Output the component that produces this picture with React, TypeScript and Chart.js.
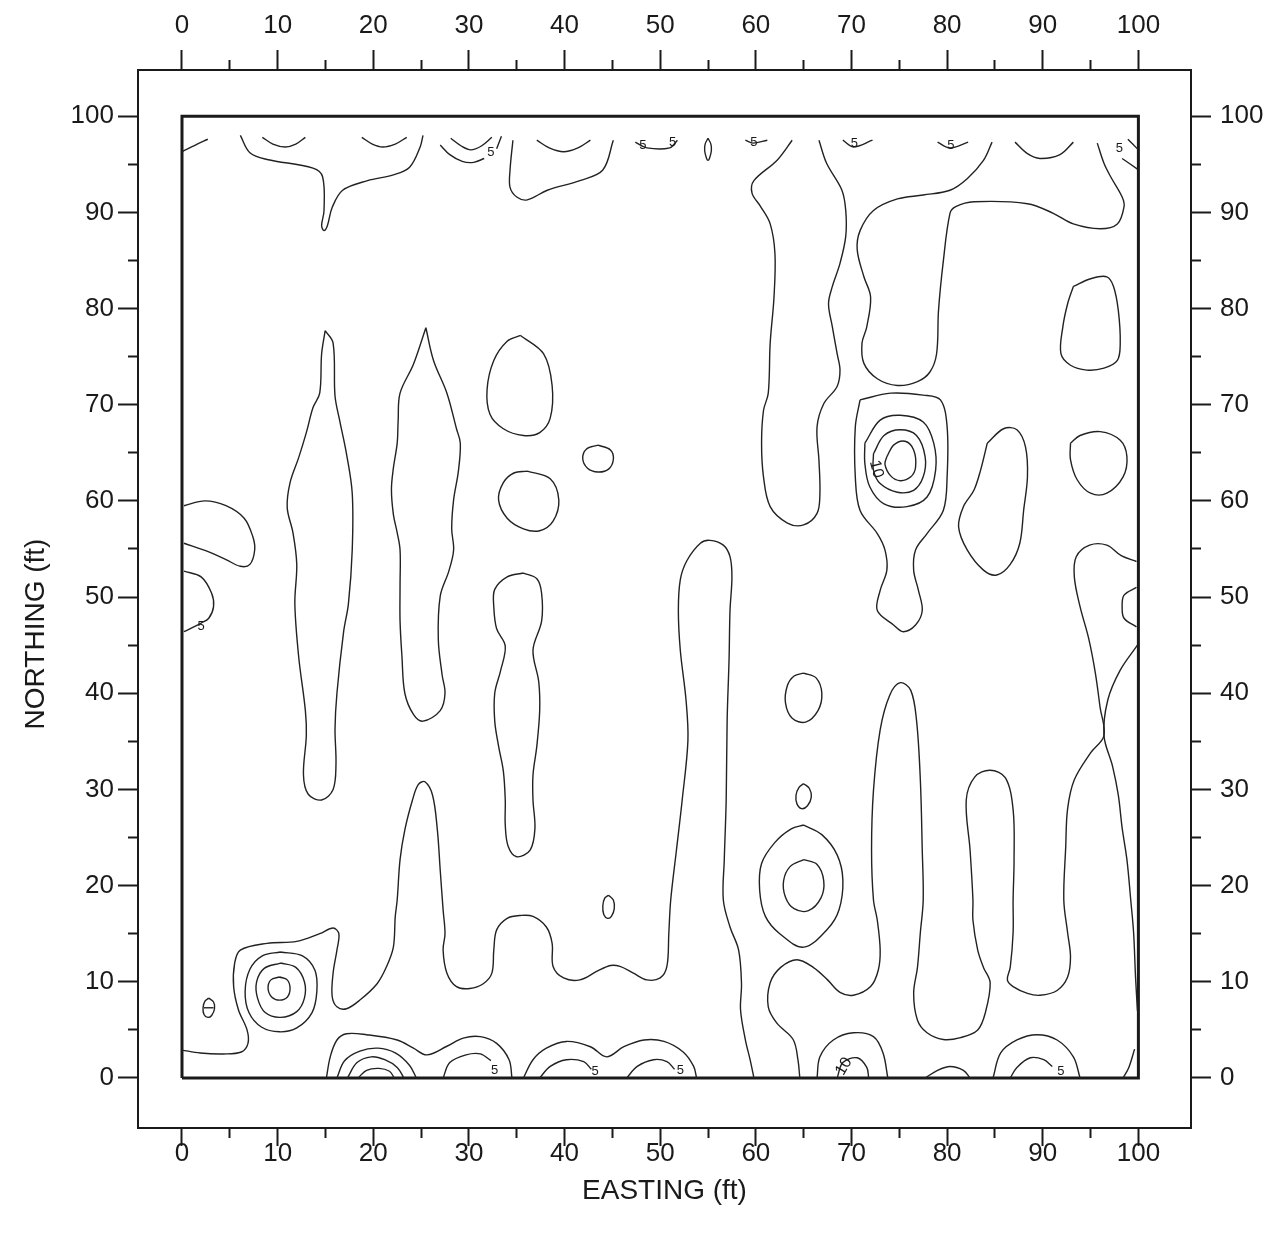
import React, { useEffect, useRef } from 'react';
import { Chart, registerables } from 'chart.js';

Chart.register(...registerables);

type Pt = [number, number];

// ---- axis ranges and tick values ----
const X_MIN = -4.6;
const X_MAX = 105.5;
const Y_MIN = -5.2;
const Y_MAX = 104.8;
const majorTickValues = [0, 10, 20, 30, 40, 50, 60, 70, 80, 90, 100];
const minorTickValues = [5, 15, 25, 35, 45, 55, 65, 75, 85, 95];
const xTitle = 'EASTING (ft)';
const yTitle = 'NORTHING (ft)';

// ---- survey frame ----
const frameX = [0, 100, 100, 0, 0];
const frameY = [0, 0, 100, 100, 0];

// ---- contour lines (easting, northing) ----
const cTopLeft: Pt[] = [[0, 96.3], [1.4, 97.0], [2.7, 97.6]];
const cTopStem: Pt[] = [[6.1, 98.0], [7.1, 96.2], [8.9, 95.5], [13.7, 94.6], [14.7, 93.7], [14.85, 90.2], [14.6, 88.6], [14.85, 88.1], [15.2, 88.6], [15.7, 90.5], [16.8, 92.3], [19.4, 93.3], [22.1, 93.9], [23.8, 94.7], [24.9, 96.8], [25.2, 98.0]];
const cTopArc10: Pt[] = [[8.4, 97.8], [9.5, 97.1], [10.8, 96.8], [11.9, 97.1], [12.9, 97.8]];
const cTopArc21: Pt[] = [[18.8, 97.8], [19.9, 97.1], [21.0, 96.8], [22.3, 97.1], [23.5, 97.8]];
const cTopArc30a: Pt[] = [[28.1, 97.7], [29.2, 96.9], [30.2, 96.5], [31.3, 96.9], [32.4, 97.8]];
const cTopArc30b: Pt[] = [[27.0, 97.0], [28.0, 96.0], [29.3, 95.3], [30.5, 95.2], [31.6, 95.6]];
const cTopArc30c: Pt[] = [[32.9, 96.6], [33.4, 97.9]];
const cTopLoop36: Pt[] = [[34.6, 97.5], [34.3, 94.4], [34.3, 92.6], [35.0, 91.6], [36.1, 91.3], [38.2, 92.3], [41.6, 93.3], [44.0, 94.4], [45.1, 97.5]];
const cTopArc40: Pt[] = [[37.1, 97.5], [38.4, 96.7], [39.9, 96.3], [41.4, 96.7], [42.7, 97.5]];
const cTopArc50: Pt[] = [[47.4, 97.3], [48.6, 96.7], [51.0, 96.7], [51.8, 97.5]];
const cTopOval55: Pt[] = [[55.0, 97.7], [55.3, 97.1], [55.35, 96.4], [55.15, 95.6], [55.0, 95.4], [54.85, 95.6], [54.65, 96.4], [54.7, 97.1], [55.0, 97.7]];
const cTopArc60: Pt[] = [[58.9, 97.5], [59.7, 97.2], [61.2, 97.5]];
const cBand64: Pt[] = [[63.8, 97.5], [62.2, 95.4], [59.8, 93.3], [59.6, 92.0], [60.5, 90.6], [61.5, 88.8], [62.0, 85.7], [61.9, 81.2], [61.5, 76.4], [61.3, 71.2], [60.8, 69.4], [60.6, 66.0], [60.8, 62.5], [61.5, 59.4], [63.3, 57.7], [65.0, 57.5], [66.4, 58.7], [66.7, 60.8], [66.6, 64.2], [66.4, 67.7], [67.1, 70.1], [68.5, 71.9], [68.8, 73.6], [68.5, 75.3], [68.0, 78.1], [67.6, 80.5], [68.0, 82.3], [68.8, 84.7], [69.4, 87.5], [69.4, 90.2], [69.0, 92.3], [67.4, 95.1], [66.6, 97.5]];
const cTopArc70: Pt[] = [[69.1, 97.5], [70.2, 96.8], [72.2, 97.5]];
const cTopArc80: Pt[] = [[79.0, 97.3], [80.3, 96.7], [82.2, 97.3]];
const cBand80: Pt[] = [[84.7, 97.3], [83.8, 95.4], [82.1, 93.5], [80.3, 92.3], [77.5, 91.8], [74.8, 91.4], [72.3, 90.2], [70.9, 88.1], [70.6, 86.1], [71.3, 83.3], [72.0, 81.2], [71.6, 78.1], [71.1, 76.4], [71.3, 74.3], [72.7, 72.7], [74.8, 72.0], [76.9, 72.4], [78.2, 73.4], [78.9, 75.3], [79.1, 79.8], [79.6, 84.9], [80.3, 89.9], [80.9, 90.6], [82.8, 91.1], [88.4, 90.9], [91.1, 89.9], [93.2, 88.8], [96.0, 88.3], [97.8, 88.8], [98.5, 90.6], [98.3, 91.6], [97.1, 93.7], [96.4, 95.1], [95.7, 97.2]];
const cTopArc90: Pt[] = [[87.1, 97.3], [88.4, 96.1], [89.7, 95.6], [91.8, 96.0], [93.2, 97.3]];
const cCornerA: Pt[] = [[98.9, 97.6], [99.9, 96.6]];
const cCornerB: Pt[] = [[98.3, 95.6], [99.9, 94.5]];

const cLeft58: Pt[] = [[0.2, 59.5], [2.4, 60.0], [4.6, 59.5], [6.5, 58.2], [7.4, 56.3], [7.6, 54.9], [7.1, 53.4], [6.1, 53.2], [4.6, 53.9], [2.8, 54.7], [0.2, 55.6]];
const cLeft50: Pt[] = [[0.2, 52.7], [2.0, 52.1], [3.1, 50.4], [3.3, 49.0], [2.8, 47.8], [2.0, 47.3], [0.2, 46.4]];
const cSpindle15: Pt[] = [[14.97, 77.7], [15.8, 76.4], [16.0, 70.9], [16.5, 68.3], [17.2, 64.9], [17.8, 60.8], [17.8, 54.9], [17.4, 49.3], [16.9, 46.4], [16.2, 40.0], [16.0, 36.3], [16.1, 32.6], [15.8, 30.0], [14.6, 28.9], [13.2, 29.5], [12.7, 31.5], [13.0, 35.6], [12.9, 38.2], [12.2, 43.8], [11.8, 49.3], [12.0, 53.4], [11.6, 56.7], [11.0, 59.3], [11.3, 61.9], [12.2, 64.5], [13.0, 67.1], [13.7, 69.7], [14.4, 71.2], [14.6, 75.3], [14.97, 77.7]];
const cSpindle25: Pt[] = [[25.5, 78.0], [26.3, 74.6], [27.7, 71.2], [28.7, 67.5], [29.1, 66.0], [28.9, 63.1], [28.4, 60.1], [28.2, 57.1], [28.4, 54.9], [27.9, 52.7], [27.0, 50.1], [26.8, 45.6], [27.2, 41.9], [27.5, 40.0], [27.0, 38.2], [25.2, 37.1], [24.2, 37.8], [23.3, 40.0], [23.0, 43.8], [22.8, 47.5], [22.8, 51.2], [22.8, 54.9], [22.5, 56.7], [22.1, 58.6], [21.9, 61.2], [22.1, 63.4], [22.5, 66.0], [22.6, 68.3], [22.8, 71.2], [24.2, 74.2], [25.5, 78.0]];
const cRing35a: Pt[] = [[35.4, 77.2], [37.8, 75.3], [38.7, 72.0], [38.5, 68.6], [37.4, 67.1], [35.7, 66.8], [33.6, 67.5], [32.2, 69.0], [31.9, 71.6], [32.6, 74.6], [34.0, 76.6], [35.4, 77.2]];
const cRing35b: Pt[] = [[36.1, 63.1], [38.5, 62.3], [39.4, 60.1], [38.8, 57.9], [37.4, 56.9], [35.7, 57.1], [34.0, 58.2], [33.1, 60.1], [33.6, 61.9], [34.7, 62.9], [36.1, 63.1]];
const cSpindle35: Pt[] = [[35.7, 52.5], [37.1, 51.9], [37.6, 50.4], [37.6, 47.5], [36.7, 44.5], [37.3, 41.2], [37.4, 38.2], [37.1, 34.5], [36.7, 31.5], [36.7, 28.9], [36.9, 25.9], [36.4, 23.7], [35.0, 23.0], [34.1, 24.1], [33.8, 26.3], [33.8, 28.9], [33.6, 31.9], [33.1, 34.5], [32.7, 37.1], [32.7, 40.0], [33.3, 42.3], [33.8, 44.9], [32.9, 46.7], [32.6, 49.0], [32.7, 50.8], [34.0, 52.1], [35.7, 52.5]];
const cRing44: Pt[] = [[43.5, 65.8], [44.8, 65.3], [45.1, 64.3], [44.6, 63.3], [43.5, 63.0], [42.4, 63.4], [41.9, 64.4], [42.3, 65.4], [43.5, 65.8]];

const cLongWest: Pt[] = [[0, 2.9], [1.9, 2.6], [4.3, 2.5], [6.2, 2.7], [6.9, 3.6], [6.8, 5.0], [5.9, 7.1], [5.4, 9.5], [5.5, 11.9], [6.1, 13.3], [8.9, 14.0], [12.0, 14.2], [14.4, 15.0], [15.8, 15.6], [16.4, 15.0], [16.2, 13.3], [15.8, 10.9], [15.7, 8.5], [16.2, 7.4], [17.2, 7.2], [18.6, 8.1], [20.4, 9.8], [21.4, 11.6], [22.1, 13.6], [22.3, 16.8], [22.5, 18.5], [22.8, 22.7], [23.3, 25.8], [24.1, 28.9], [24.7, 30.5], [25.4, 30.8], [26.2, 29.4], [26.7, 25.8], [27.0, 21.6], [27.3, 17.5], [27.5, 15.0], [27.3, 13.3], [27.7, 10.9], [28.7, 9.5], [30.1, 9.3], [31.5, 9.8], [32.4, 10.9], [32.6, 13.3], [32.9, 15.4], [34.0, 16.6], [35.4, 16.9], [36.7, 16.8], [38.1, 15.7], [38.7, 14.0], [38.8, 11.6], [39.9, 10.4], [41.6, 10.2], [43.4, 11.1], [44.8, 11.7], [45.8, 11.6], [47.2, 10.9], [48.6, 10.2], [50.0, 10.4], [50.7, 11.6], [50.9, 15.0], [51.1, 18.5], [51.7, 23.7], [52.3, 28.9], [52.9, 35.1], [52.7, 39.3], [52.1, 44.5], [51.9, 48.6], [52.1, 51.8], [52.8, 53.8], [54.2, 55.6], [55.2, 55.9], [56.6, 55.4], [57.3, 54.2], [57.5, 52.1], [57.3, 48.6], [57.2, 43.5], [57.0, 37.2], [56.9, 28.9], [56.7, 22.7], [56.6, 18.5], [57.3, 15.7], [58.2, 13.3], [58.5, 9.8], [58.4, 7.1], [58.9, 4.0], [59.4, 1.9], [59.8, 0]];
const cOval45: Pt[] = [[44.6, 19.0], [45.1, 18.5], [45.2, 17.6], [44.9, 16.8], [44.5, 16.6], [44.1, 17.0], [44.0, 17.9], [44.2, 18.7], [44.6, 19.0]];
const cOval3: Pt[] = [[2.8, 8.3], [3.3, 7.9], [3.4, 7.2], [3.1, 6.5], [2.7, 6.3], [2.3, 6.6], [2.2, 7.3], [2.4, 8.0], [2.8, 8.3]];
const cOval3Bar: Pt[] = [[2.3, 7.3], [3.3, 7.3]];
const cBull10a: Pt[] = [[10.3, 13.1], [12.6, 12.7], [13.9, 11.2], [14.1, 9.0], [13.6, 6.8], [12.0, 5.2], [10.2, 4.8], [8.3, 5.3], [7.0, 6.8], [6.6, 9.0], [7.1, 11.3], [8.4, 12.7], [10.3, 13.1]];
const cBull10b: Pt[] = [[10.3, 11.95], [11.9, 11.5], [12.8, 10.0], [12.8, 8.3], [12.0, 6.9], [10.3, 6.3], [8.7, 6.8], [7.9, 8.3], [7.8, 10.0], [8.6, 11.4], [10.3, 11.95]];
const cBull10c: Pt[] = [[10.2, 10.5], [11.0, 10.2], [11.3, 9.3], [11.0, 8.4], [10.2, 8.1], [9.4, 8.4], [9.0, 9.3], [9.3, 10.2], [10.2, 10.5]];

const cSouthBump1: Pt[] = [[15.1, 0], [15.5, 2.2], [16.2, 3.95], [17.2, 4.6], [19.3, 4.5], [22.5, 3.95], [24.2, 3.1], [25.6, 2.4], [27.7, 3.3], [29.4, 4.15], [31.2, 4.3], [32.9, 3.6], [34.2, 1.9], [34.5, 0]];
const cSouth20a: Pt[] = [[16.2, 0], [17.0, 1.8], [18.6, 2.8], [20.5, 3.1], [22.3, 2.6], [23.8, 1.3], [24.5, 0]];
const cSouth20b: Pt[] = [[17.3, 0], [18.3, 1.6], [19.8, 2.2], [21.2, 1.9], [22.5, 1.1], [23.2, 0]];
const cSouth20c: Pt[] = [[18.4, 0], [19.3, 0.8], [20.6, 1.0], [21.7, 0.7], [22.2, 0]];
const cSouth30: Pt[] = [[27.3, 0], [28.0, 1.6], [29.7, 2.4], [31.2, 2.5], [32.3, 1.8]];
const cSouthBump2: Pt[] = [[35.7, 0], [36.7, 1.9], [38.1, 3.1], [40.2, 3.8], [42.7, 3.25], [44.4, 2.2], [46.2, 3.25], [48.3, 3.95], [50.4, 3.8], [52.4, 2.7], [53.5, 1.2], [53.8, 0]];
const cSouth40: Pt[] = [[37.4, 0], [38.5, 1.2], [40.2, 1.9], [42.0, 1.7], [42.8, 0.9]];
const cSouth50: Pt[] = [[46.5, 0], [47.6, 1.2], [49.3, 1.9], [50.7, 1.7], [51.5, 0.9]];

const cRing65a: Pt[] = [[65.0, 26.3], [66.9, 25.3], [68.5, 23.2], [69.1, 20.6], [68.7, 17.5], [67.5, 15.5], [65.0, 13.6], [62.5, 15.0], [61.0, 16.8], [60.4, 19.5], [60.6, 22.3], [62.0, 24.5], [63.7, 25.9], [65.0, 26.3]];
const cRing65b: Pt[] = [[65.0, 22.7], [66.4, 22.2], [67.1, 20.5], [66.8, 18.7], [65.5, 17.4], [64.0, 17.6], [63.1, 18.8], [62.9, 20.5], [63.6, 22.0], [65.0, 22.7]];
const cRing65c: Pt[] = [[65.0, 30.6], [65.6, 30.1], [65.8, 29.2], [65.4, 28.3], [64.8, 28.0], [64.3, 28.5], [64.2, 29.4], [64.5, 30.2], [65.0, 30.6]];
const cRing65d: Pt[] = [[65.0, 42.1], [66.3, 41.6], [66.9, 40.0], [66.5, 38.2], [65.2, 37.0], [63.8, 37.4], [63.1, 39.0], [63.3, 40.8], [64.0, 41.8], [65.0, 42.1]];
const cSouth70a: Pt[] = [[66.4, 0], [66.7, 2.2], [68.1, 3.95], [70.2, 4.7], [72.3, 4.3], [73.3, 2.6], [73.8, 0]];
const cSouth70b: Pt[] = [[68.5, 0], [69.1, 1.6], [70.6, 2.1], [71.6, 1.1], [71.8, 0]];
const cSouth80: Pt[] = [[77.7, 0], [79.0, 0.8], [80.3, 1.2], [81.7, 0.8], [82.4, 0]];
const cSouth90a: Pt[] = [[84.8, 0], [85.6, 2.6], [87.3, 3.95], [89.4, 4.5], [91.5, 3.95], [93.2, 2.2], [93.9, 0]];
const cSouth90b: Pt[] = [[86.6, 0], [87.3, 1.1], [88.7, 2.1], [90.1, 1.9], [91.0, 1.2]];
const cSouthEast: Pt[] = [[98.4, 0], [99.0, 1.1], [99.6, 3.0]];

const cWinding: Pt[] = [[64.6, 0], [64.4, 1.9], [63.9, 4.0], [62.2, 5.7], [61.3, 7.4], [61.5, 9.9], [62.6, 11.5], [64.3, 12.3], [66.0, 11.5], [67.5, 10.2], [68.8, 8.9], [70.2, 8.6], [72.0, 9.5], [72.8, 11.2], [73.0, 13.3], [72.7, 16.4], [72.3, 18.5], [72.1, 23.7], [72.3, 29.9], [73.0, 36.2], [74.0, 39.8], [75.1, 41.1], [76.2, 40.3], [76.8, 37.2], [77.2, 31.0], [77.4, 23.7], [77.5, 18.5], [77.2, 15.1], [76.9, 11.5], [76.5, 8.8], [76.9, 6.0], [77.9, 4.7], [79.6, 4.0], [81.4, 4.2], [83.2, 5.0], [84.0, 6.8], [84.5, 9.9], [83.8, 11.5], [83.2, 13.3], [82.7, 16.4], [82.7, 18.5], [82.4, 23.7], [82.0, 28.9], [82.9, 31.3], [84.5, 32.0], [86.1, 31.2], [86.9, 27.9], [87.0, 22.7], [86.9, 18.5], [86.9, 15.1], [86.6, 11.5], [86.3, 10.2], [86.9, 9.5], [88.4, 8.8], [89.7, 8.6], [91.5, 9.1], [92.6, 10.5], [92.9, 12.6], [92.6, 15.1], [92.2, 18.5], [92.4, 24.0], [92.6, 28.0], [93.3, 31.0], [95.0, 33.8], [96.4, 35.6], [96.0, 38.5], [95.5, 42.1], [94.8, 45.7], [93.9, 49.0], [93.3, 52.1], [93.5, 54.2], [94.9, 55.4], [96.7, 55.4], [98.2, 54.3], [99.8, 53.7]];
const cEastEdge: Pt[] = [[99.9, 45.0], [98.1, 42.4], [96.8, 39.3], [96.4, 35.6], [97.3, 32.4], [97.9, 29.4], [98.3, 26.0], [98.8, 22.7], [99.2, 18.5], [99.5, 15.1], [99.7, 10.5], [99.9, 7.0]];
const cEastArc50: Pt[] = [[99.8, 51.0], [98.5, 50.2], [98.3, 49.0], [98.5, 47.8], [99.8, 46.9]];
const cPeak75: Pt[] = [[70.9, 70.5], [74.1, 71.2], [77.5, 71.0], [79.3, 70.5], [80.0, 67.7], [80.0, 62.5], [79.6, 59.0], [77.9, 56.6], [76.7, 54.9], [76.5, 52.8], [77.0, 50.7], [77.4, 48.6], [76.7, 47.1], [75.4, 46.4], [74.4, 47.1], [72.7, 48.6], [73.0, 50.7], [73.7, 52.8], [73.5, 54.9], [72.7, 56.6], [70.9, 59.0], [70.4, 62.5], [70.4, 67.7], [70.9, 70.5]];
const cPeak75a: Pt[] = [[71.4, 66.0], [73.0, 68.4], [75.1, 68.9], [77.5, 68.2], [78.6, 66.0], [78.8, 63.2], [77.9, 60.4], [75.8, 59.4], [73.4, 59.7], [71.9, 61.5], [71.4, 63.9], [71.4, 66.0]];
const cPeak75b: Pt[] = [[72.3, 64.9], [73.4, 66.8], [75.1, 67.4], [76.8, 66.8], [77.7, 64.6], [77.5, 62.5], [76.5, 61.1], [74.8, 60.9], [73.0, 61.8], [72.3, 63.2], [72.3, 64.9]];
const cPeak75c: Pt[] = [[73.7, 64.6], [74.4, 65.8], [75.6, 66.2], [76.5, 65.3], [76.7, 63.5], [76.2, 62.5], [75.1, 62.1], [74.1, 62.6], [73.5, 63.8], [73.7, 64.6]];
const cBlob85: Pt[] = [[84.2, 66.0], [85.9, 67.5], [87.3, 67.4], [88.2, 65.6], [88.4, 62.5], [88.0, 59.0], [87.6, 55.6], [86.6, 53.4], [85.2, 52.3], [83.8, 52.8], [82.1, 54.9], [81.2, 57.3], [81.7, 59.4], [82.8, 61.1], [83.5, 63.2], [84.2, 66.0]];
const cRing96: Pt[] = [[92.9, 66.0], [93.9, 66.8], [96.0, 67.2], [98.1, 66.3], [98.8, 64.6], [98.4, 62.5], [96.7, 60.8], [95.0, 60.8], [93.6, 62.2], [92.9, 64.3], [92.9, 66.0]];
const cRing95: Pt[] = [[93.2, 82.3], [95.0, 83.1], [96.7, 83.3], [97.4, 82.3], [97.9, 79.8], [98.1, 76.4], [97.8, 74.6], [96.4, 73.8], [94.6, 73.6], [92.9, 74.1], [91.9, 75.3], [92.1, 78.1], [92.6, 80.5], [93.2, 82.3]];

const contourLines: Pt[][] = [
  cTopLeft, cTopStem, cTopArc10, cTopArc21, cTopArc30a, cTopArc30b, cTopArc30c, cTopLoop36, cTopArc40, cTopArc50,
  cTopOval55, cTopArc60, cBand64, cTopArc70, cTopArc80, cBand80, cTopArc90, cCornerA, cCornerB,
  cLeft58, cLeft50, cSpindle15, cSpindle25, cRing35a, cRing35b, cSpindle35, cRing44,
  cLongWest, cOval45, cOval3, cOval3Bar, cBull10a, cBull10b, cBull10c,
  cSouthBump1, cSouth20a, cSouth20b, cSouth20c, cSouth30, cSouthBump2, cSouth40, cSouth50,
  cRing65a, cRing65b, cRing65c, cRing65d, cSouth70a, cSouth70b, cSouth80, cSouth90a, cSouth90b, cSouthEast,
  cWinding, cEastEdge, cEastArc50, cPeak75, cPeak75a, cPeak75b, cPeak75c, cBlob85, cRing96, cRing95,
];

// ---- contour level labels ----
const labelText = ['10', '10', '5', '5', '5', '5', '5', '5', '5', '5', '5', '5', '5', '5'];
const labelX = [72.6, 69.2, 32.3, 48.2, 51.3, 59.8, 70.3, 80.4, 98.0, 2.0, 32.7, 43.2, 52.1, 91.9];
const labelY = [63.3, 1.2, 96.2, 97.0, 97.3, 97.3, 97.2, 97.0, 96.6, 47.0, 0.8, 0.7, 0.8, 0.7];
const labelAngle = [75, -60, 0, 0, 0, 0, 0, 0, 0, 0, 0, 0, 0, 0];

const FONT = "'Liberation Sans', Arial, Helvetica, sans-serif";
const INK = '#1a1a1a';

type Side = 'top' | 'bottom' | 'left' | 'right';
// tick length / label padding per side (major, minor, padding)
const sideMajorLen: Record<Side, number> = { top: 20, bottom: 18, left: 20, right: 20 };
const sideMinorLen: Record<Side, number> = { top: 10, bottom: 10, left: 10, right: 10 };
const sidePadding: Record<Side, number> = { top: 9, bottom: -8, left: 4, right: 9 };

function makeAxis(position: Side, kind: 'major' | 'minor', size: number, extra: any = {}) {
  const horizontal = position === 'top' || position === 'bottom';
  const values = kind === 'major' ? majorTickValues : minorTickValues;
  return {
    type: 'linear',
    position,
    min: horizontal ? X_MIN : Y_MIN,
    max: horizontal ? X_MAX : Y_MAX,
    weight: kind === 'major' ? 1 : 0,
    afterBuildTicks: (s: any) => {
      s.ticks = values.map((v) => ({ value: v }));
    },
    afterFit: (s: any) => {
      if (horizontal) s.height = size;
      else s.width = size;
    },
    grid: {
      drawOnChartArea: false,
      drawTicks: true,
      tickLength: kind === 'major' ? sideMajorLen[position] : sideMinorLen[position],
      tickColor: INK,
      tickWidth: 2,
      color: INK,
    },
    border: { display: kind === 'major', color: INK, width: 2 },
    ticks: {
      display: kind === 'major',
      color: INK,
      font: { family: FONT, size: 26 },
      padding: sidePadding[position],
      autoSkip: false,
      maxRotation: 0,
      callback: (v: any) => String(v),
    },
    ...extra,
  };
}

const contourLabelPlugin = {
  id: 'contourLabels',
  afterDatasetsDraw(chart: any) {
    const { ctx, scales } = chart;
    const xs = scales.x;
    const ys = scales.y;
    ctx.save();
    ctx.fillStyle = INK;
    ctx.textAlign = 'center';
    ctx.textBaseline = 'middle';
    for (let i = 0; i < labelText.length; i++) {
      const px = xs.getPixelForValue(labelX[i]);
      const py = ys.getPixelForValue(labelY[i]);
      ctx.save();
      ctx.translate(px, py);
      ctx.rotate((labelAngle[i] * Math.PI) / 180);
      ctx.font = `${labelText[i].length > 1 ? 16 : 13}px ${FONT}`;
      ctx.fillText(labelText[i], 0, 0);
      ctx.restore();
    }
    ctx.restore();
  },
};

export default function App() {
  const canvasRef = useRef<HTMLCanvasElement | null>(null);

  useEffect(() => {
    const canvas = canvasRef.current;
    if (!canvas) return;

    const datasets: any[] = contourLines.map((line) => ({
      data: line.map(([x, y]) => ({ x, y })),
      showLine: true,
      borderColor: '#222',
      borderWidth: 1.4,
      pointRadius: 0,
      pointHoverRadius: 0,
      tension: 0.35,
      fill: false,
    }));
    datasets.push({
      data: frameX.map((x, i) => ({ x, y: frameY[i] })),
      showLine: true,
      borderColor: INK,
      borderWidth: 3,
      pointRadius: 0,
      tension: 0,
      fill: false,
    });

    const chart = new Chart(canvas, {
      type: 'scatter',
      data: { datasets },
      options: {
        animation: false,
        responsive: false,
        devicePixelRatio: 1,
        events: [],
        layout: { padding: 0 },
        plugins: { legend: { display: false }, tooltip: { enabled: false } },
        scales: {
          x: makeAxis('bottom', 'major', 107, {
            title: { display: true, text: xTitle, color: INK, font: { family: FONT, size: 28 }, padding: { top: 0, bottom: 27 } },
          }),
          xMinor: makeAxis('bottom', 'minor', 0),
          xTop: makeAxis('top', 'major', 70),
          xTopMinor: makeAxis('top', 'minor', 0),
          y: makeAxis('left', 'major', 138, {
            title: {
              display: true,
              text: yTitle + '\u00A0'.repeat(9),
              color: INK,
              font: { family: FONT, size: 28 },
              padding: { top: 19, bottom: 0 },
            },
          }),
          yMinor: makeAxis('left', 'minor', 0),
          yRight: makeAxis('right', 'major', 76),
          yRightMinor: makeAxis('right', 'minor', 0),
        } as any,
      },
      plugins: [contourLabelPlugin],
    });

    return () => chart.destroy();
  }, []);

  return (
    <canvas
      ref={canvasRef}
      width={1267}
      height={1235}
      style={{ position: 'absolute', left: 0, top: 0, width: 1267, height: 1235 }}
    />
  );
}
